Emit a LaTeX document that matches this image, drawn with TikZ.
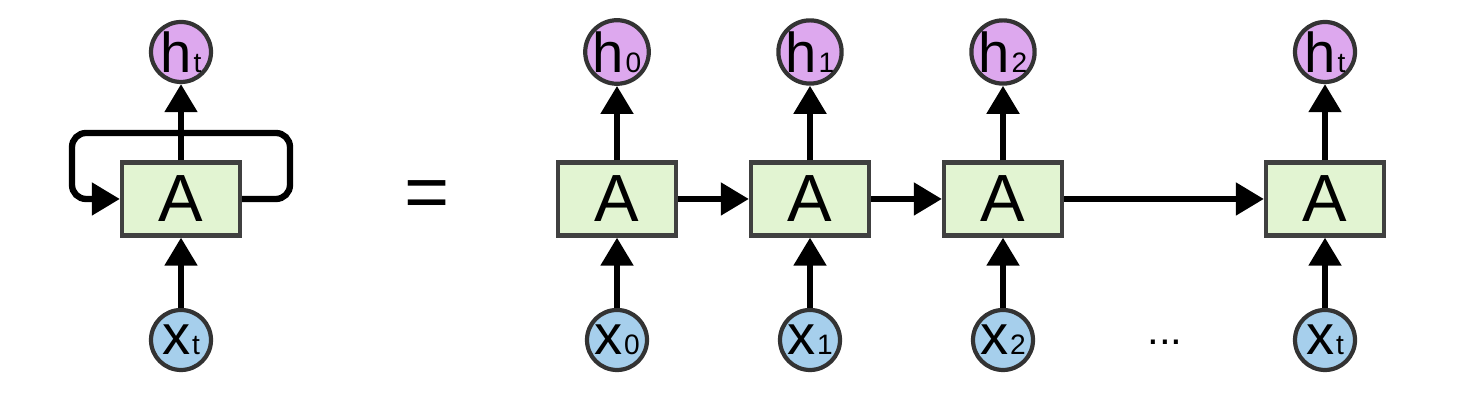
\documentclass[tikz,border=0pt]{standalone}
\usepackage{fontspec}
\setmainfont{Liberation Sans}
\usetikzlibrary{arrows.meta}
\definecolor{cellgreen}{HTML}{E2F4D2}
\definecolor{outpurple}{HTML}{DDA8EE}
\definecolor{inblue}{HTML}{A6CFEC}
\tikzset{
  cell/.style={draw=black!75,fill=cellgreen,line width=1.2pt,minimum width=1.18cm,minimum height=0.73cm,font=\fontsize{19}{19}\selectfont},
  outc/.style={circle,draw=black!80,fill=outpurple,line width=1.2pt,minimum size=0.6cm,inner sep=0pt,font=\fontsize{16}{16}\selectfont},
  inc/.style={circle,draw=black!80,fill=inblue,line width=1.2pt,minimum size=0.6cm,inner sep=0pt,font=\fontsize{16}{16}\selectfont},
  flow/.style={line width=1.8pt,-{Triangle[length=8pt,width=9pt]}}
}
\newcommand{\lab}[2]{#1\hspace{0.5pt}{\fontsize{8}{8}\selectfont #2}}
\begin{document}
\begin{tikzpicture}
  \useasboundingbox (0,0) rectangle (14.72,4.02);
  % rolled cell
  \node[cell] (A) at (1.81,2.03) {A};
  \node[outc] (hT) at (1.81,3.50) {\lab{h}{t}};
  \node[inc] (xT) at (1.81,0.62) {\lab{x}{t}};
  \draw[flow] (xT) -- (A);
  \draw[flow] (A) -- (hT);
  \coordinate (r1) at (2.90,2.03);
  \coordinate (l1) at (0.72,2.03);
  \draw[flow,rounded corners=4pt] (A.east) -- (r1) |- (1.81,2.69) -| (l1) -- (A.west);
  \node[font=\fontsize{22}{22}\selectfont] (eq) at (4.27,2.02) {=};
  % unrolled chain
  \foreach \i/\x/\s in {0/6.17/0,1/8.10/1,2/10.03/2,3/13.25/t}{
    \node[cell] (A\i) at (\x,2.03) {A};
    \node[outc] (h\i) at (\x,3.50) {\lab{h}{\s}};
    \node[inc] (x\i) at (\x,0.62) {\lab{x}{\s}};
    \draw[flow] (x\i) -- (A\i);
    \draw[flow] (A\i) -- (h\i);
  }
  \draw[flow] (A0) -- (A1);
  \draw[flow] (A1) -- (A2);
  \draw[flow] (A2) -- (A3);
  \node[font=\large] (dots) at (11.65,0.60) {...};
\end{tikzpicture}
\end{document}
